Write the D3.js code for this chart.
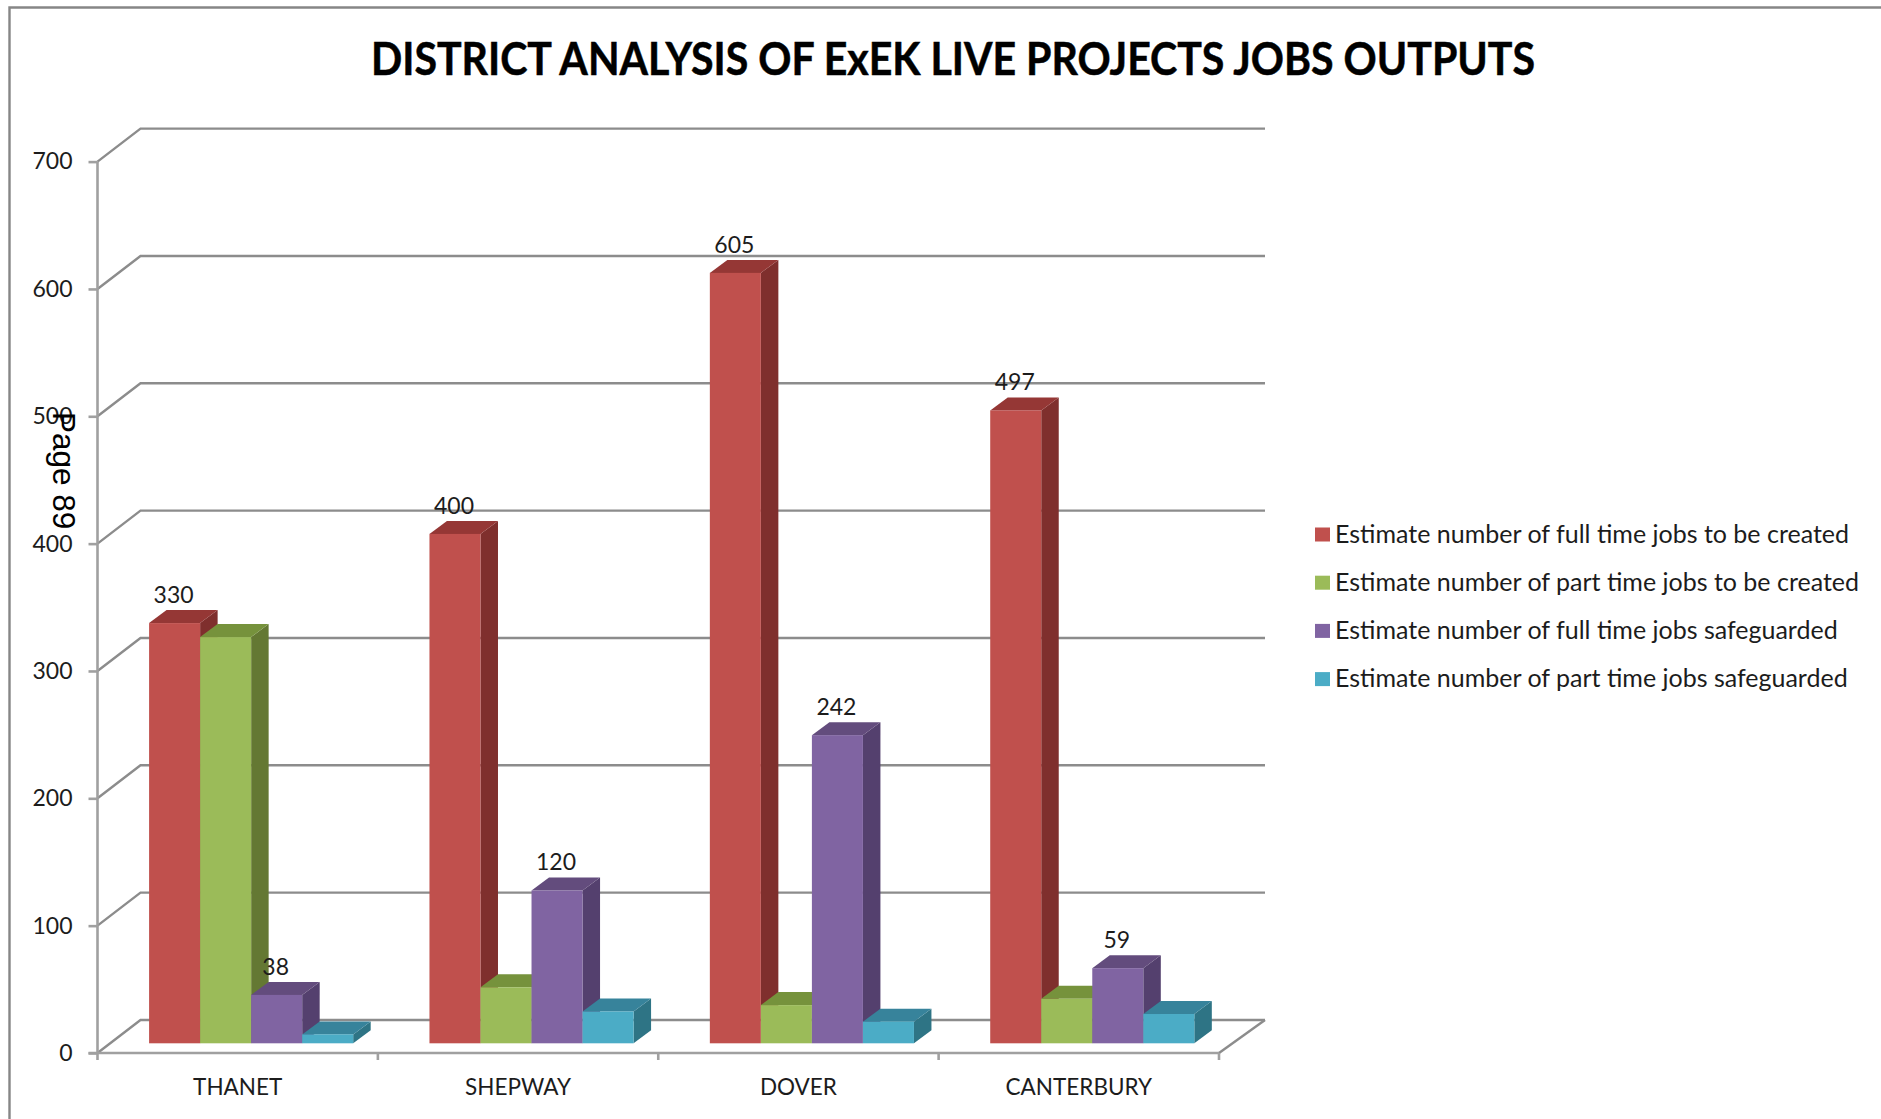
<!DOCTYPE html>
<html>
<head>
<meta charset="utf-8">
<script src="https://cdn.jsdelivr.net/npm/d3@7/dist/d3.min.js"></script>
<style>
html, body { margin: 0; padding: 0; background: #fff; }
svg { display: block; }
text { font-family: Lato, "Open Sans", sans-serif; fill: #1c1c1c; }
</style>
</head>
<body>
<svg id="chart" width="1881" height="1119"></svg>
<script>
const districts = ["THANET", "SHEPWAY", "DOVER", "CANTERBURY"];
const seriesNames = [
  "Estimate number of full time jobs to be created",
  "Estimate number of part time jobs to be created",
  "Estimate number of full time jobs safeguarded",
  "Estimate number of part time jobs safeguarded"
];
const fullTimeCreated = [330, 400, 605, 497];
const partTimeCreated = [319, 44, 30, 35];
const fullTimeSafeguarded = [38, 120, 242, 59];
const partTimeSafeguarded = [7, 25, 17, 23];
const yTicks = [0, 100, 200, 300, 400, 500, 600, 700];
const frontColors = ["#C0504D", "#9BBB59", "#8064A2", "#4BACC6"];
const topColors = ["#953735", "#76923C", "#634C7D", "#37839B"];
const sideColors = ["#7F2F2D", "#647833", "#54406E", "#2E7485"];
const labelledSeries = [0, 2];

const allSeries = [fullTimeCreated, partTimeCreated, fullTimeSafeguarded, partTimeSafeguarded];
const svg = d3.select("#chart");

// Projection of the box: front-left axis corner, depth of the walls and of each bar.
const plot = { left: 97.5, right: 1219, zero: 1053, top: 161.6 };
const wall = { dx: 43, dy: -33 };
const barDepth = { dx: 17.5, dy: -13 };
const barFloorOffset = -9.7;

const y = d3.scaleLinear().domain([0, 700]).range([plot.zero, plot.top]);
const x = d3.scaleBand().domain(districts).range([plot.left, plot.right]);
// Each cluster sits off-centre in its band, towards the front-left of the floor.
const inner = d3.scaleBand().domain(d3.range(4)).range([x.bandwidth() * 0.184, x.bandwidth() * 0.912]);
const gridColor = "#8c8c8c";
const axisColor = "#a0a0a0";

// Outer frame, cut off by the top and left of the page area.
svg.append("path")
  .attr("d", d3.line()([[9.5, 1119], [9.5, 7.5], [1881, 7.5]]))
  .attr("fill", "none").attr("stroke", "#868686").attr("stroke-width", 2.4);

// Back wall gridlines with their slanted return to the value axis.
const grid = svg.append("g").attr("fill", "none").attr("stroke", gridColor).attr("stroke-width", 2.4);
grid.selectAll("path").data(yTicks).join("path")
  .attr("d", v => d3.line()([
    [plot.left, y(v)],
    [plot.left + wall.dx, y(v) + wall.dy],
    [plot.right + wall.dx + 3, y(v) + wall.dy]
  ]));
// Right edge of the floor.
grid.append("path").attr("d", d3.line()([
  [plot.right + wall.dx + 3, y(0) + wall.dy],
  [plot.right, y(0)]
]));

// Value axis.
const yAxis = svg.append("g")
  .attr("transform", `translate(${plot.left},0)`)
  .call(d3.axisLeft(y).tickValues(yTicks).tickSize(9).tickPadding(16).tickFormat(d3.format("d")));
yAxis.selectAll("text").attr("font-size", 23).style("font-family", "Lato");
yAxis.selectAll("line, path").attr("stroke", axisColor).attr("stroke-width", 2.6);
yAxis.select(".domain").attr("d", `M0,${y(700)}V${y(0)}`);

// Category axis, ticks sit on the band boundaries.
const xAxis = svg.append("g")
  .attr("transform", `translate(0,${plot.zero})`)
  .call(d3.axisBottom(x).tickSize(0).tickPadding(26));
xAxis.selectAll("text").attr("font-size", 22.5).style("font-family", "Lato");
xAxis.select(".domain").attr("d", `M${plot.left - 9},0H${plot.right}`)
  .attr("stroke", axisColor).attr("stroke-width", 2.6);
xAxis.selectAll(".boundary").data(d3.range(5)).join("line")
  .attr("class", "boundary")
  .attr("x1", i => plot.left + i * x.step())
  .attr("x2", i => plot.left + i * x.step())
  .attr("y1", 0).attr("y2", 7)
  .attr("stroke", axisColor).attr("stroke-width", 2.6);

// Extruded bars, painted left to right so each one overlaps its neighbour's side.
const bars = districts.flatMap((d, di) => allSeries.map((values, si) => ({ d, di, si, value: values[di] })));
const baseY = plot.zero + barFloorOffset;
const unit = (y(0) - y(1));
const barX = b => x(b.d) + inner(b.si);
const barW = inner.bandwidth();
const barTop = b => baseY - b.value * unit;

const barGroups = svg.append("g").selectAll("g").data(bars).join("g");
barGroups.append("path")
  .attr("fill", b => sideColors[b.si])
  .attr("d", b => d3.line()([
    [barX(b) + barW, barTop(b)],
    [barX(b) + barW + barDepth.dx, barTop(b) + barDepth.dy],
    [barX(b) + barW + barDepth.dx, baseY + barDepth.dy],
    [barX(b) + barW, baseY]
  ]) + "Z");
barGroups.append("path")
  .attr("fill", b => topColors[b.si])
  .attr("d", b => d3.line()([
    [barX(b), barTop(b)],
    [barX(b) + barDepth.dx, barTop(b) + barDepth.dy],
    [barX(b) + barW + barDepth.dx, barTop(b) + barDepth.dy],
    [barX(b) + barW, barTop(b)]
  ]) + "Z");
barGroups.append("rect")
  .attr("x", barX)
  .attr("y", barTop)
  .attr("width", barW)
  .attr("height", b => b.value * unit)
  .attr("fill", b => frontColors[b.si]);

// Value labels on the two full time series.
svg.append("g").selectAll("text")
  .data(bars.filter(b => labelledSeries.includes(b.si)))
  .join("text")
  .attr("x", b => barX(b) + barW / 2 - 1)
  .attr("y", b => barTop(b) - 20)
  .attr("text-anchor", "middle")
  .attr("font-size", 23)
  .text(b => b.value);

// Title.
svg.append("text")
  .attr("x", 953).attr("y", 75)
  .attr("text-anchor", "middle")
  .attr("font-size", 45).attr("font-weight", 700)
  .attr("textLength", 1164).attr("lengthAdjust", "spacingAndGlyphs")
  .attr("stroke", "#000").attr("stroke-width", 0.5)
  .style("fill", "#000")
  .text("DISTRICT ANALYSIS OF ExEK LIVE PROJECTS JOBS OUTPUTS");

// Legend.
const legend = svg.append("g").selectAll("g").data(seriesNames).join("g")
  .attr("transform", (d, i) => `translate(1315,${527.5 + i * 48.2})`);
legend.append("rect").attr("width", 15).attr("height", 14).attr("fill", (d, i) => frontColors[i]);
legend.append("text").attr("x", 20).attr("y", 15).attr("font-size", 25).text(d => d);

// Page number stamped sideways over the axis.
svg.append("text")
  .attr("transform", "translate(53,412) rotate(90)")
  .attr("font-size", 31.5)
  .style("font-family", "'Liberation Sans'")
  .style("fill", "#000")
  .text("Page 89");
</script>
</body>
</html>
